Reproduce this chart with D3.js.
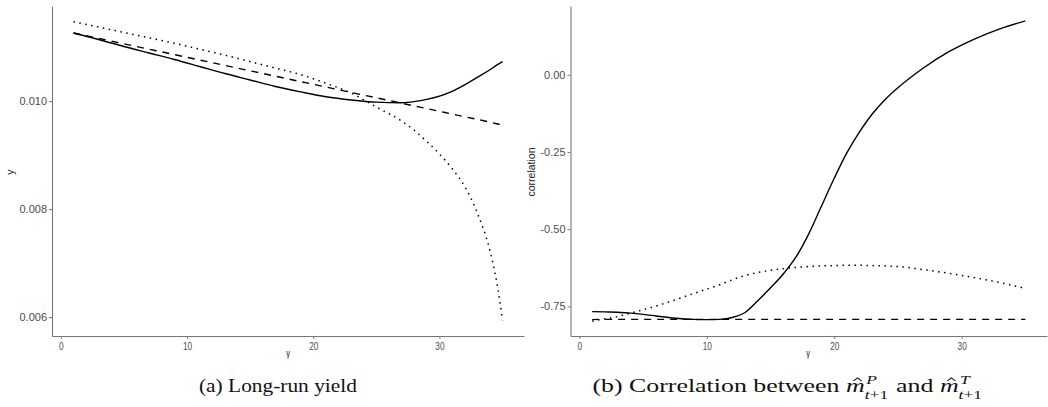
<!DOCTYPE html>
<html>
<head>
<meta charset="utf-8">
<script src="https://cdn.jsdelivr.net/npm/d3@7"></script>
<style>
  body { margin: 0; background: #fff; }
  svg { display: block; }
  .cap text { white-space: pre; }
</style>
</head>
<body>
<svg id="chart" width="1048" height="407"></svg>
<script>
// values
const gammaA = [1, 3, 5, 7, 9, 11, 13, 15, 17, 19, 21, 23, 25, 27, 28, 29, 30, 31, 32, 33, 34, 34.5, 35];
const yieldSolid = [0.01126, 0.01114, 0.01101, 0.01089, 0.01077, 0.01064, 0.01051, 0.01039, 0.01027, 0.01017,
  0.01008, 0.01002, 0.00998, 0.00997, 0.00999, 0.01003, 0.01009, 0.01018, 0.01030, 0.01044, 0.01058, 0.01066, 0.01073];
const yieldDashed = [0.01126, 0.01116, 0.01106, 0.01096, 0.01086, 0.01076, 0.01066, 0.01056, 0.01046, 0.01036,
  0.01026, 0.01016, 0.01006, 0.00996, 0.00991, 0.00986, 0.00981, 0.00976, 0.00971, 0.00966, 0.00961, 0.00958, 0.00956];
const yieldDotted = [0.01147, 0.01137, 0.01127, 0.01117, 0.01107, 0.01096, 0.01085, 0.01073, 0.01061, 0.01049,
  0.01033, 0.01015, 0.00989, 0.00963, 0.00946, 0.00925, 0.00902, 0.00875, 0.00842, 0.00793, 0.00723, 0.00670, 0.00594];

const gammaB = [1, 2, 3, 4, 5, 6, 7, 8, 9, 10, 11, 12, 13, 14, 15, 16, 17, 18, 19, 20, 21, 22, 23, 24, 25, 27, 29, 31, 33, 35];
const corrSolid = [-0.767, -0.768, -0.769, -0.772, -0.776, -0.781, -0.786, -0.790, -0.792, -0.793, -0.792, -0.786,
  -0.770, -0.732, -0.690, -0.645, -0.590, -0.515, -0.425, -0.335, -0.252, -0.184, -0.126, -0.080, -0.042,
  0.022, 0.075, 0.116, 0.149, 0.175];
const corrDashed = [-0.793, -0.792, -0.792, -0.792, -0.792, -0.792, -0.792, -0.792, -0.792, -0.792, -0.792, -0.792,
  -0.792, -0.792, -0.792, -0.792, -0.792, -0.792, -0.792, -0.792, -0.792, -0.792, -0.792, -0.792, -0.792,
  -0.792, -0.792, -0.792, -0.792, -0.792];
const corrDotted = [-0.798, -0.790, -0.783, -0.772, -0.761, -0.749, -0.736, -0.722, -0.708, -0.694, -0.680, -0.664,
  -0.650, -0.640, -0.633, -0.628, -0.624, -0.621, -0.619, -0.618, -0.617, -0.617, -0.618, -0.619, -0.621,
  -0.631, -0.643, -0.657, -0.673, -0.692];

const xTicks = [0, 10, 20, 30];
const yTicksA = [0.006, 0.008, 0.010];
const yTicksB = [-0.75, -0.5, -0.25, 0];

const svg = d3.select("#chart");

const dashes = { solid: null, dashed: "7,6", dotted: "1.5,4.5" };

function panel(opts) {
  const x = d3.scaleLinear().domain([-0.7, 36.7]).range([opts.left, opts.right]);
  const y = d3.scaleLinear().domain(opts.yDomain).range([336, 6]);
  const g = svg.append("g");

  // axes
  const xAxis = g.append("g")
    .attr("transform", "translate(0,336)")
    .call(d3.axisBottom(x).tickValues(xTicks).tickSize(3).tickPadding(3).tickSizeOuter(0));
  const yAxis = g.append("g")
    .attr("transform", `translate(${opts.left},0)`)
    .call(d3.axisLeft(y).tickValues(opts.yTicks).tickSize(3).tickPadding(2).tickSizeOuter(0)
      .tickFormat(opts.fmt));
  [xAxis, yAxis].forEach((a) => {
    a.select(".domain").attr("stroke", "#777").attr("stroke-width", 1.1);
    a.selectAll(".tick line").attr("stroke", "#777");
    a.selectAll(".tick text")
      .attr("fill", "#4d4d4d")
      .style("font-family", "'Liberation Sans', Arial, sans-serif")
      .style("font-size", "11px");
  });
  // x tick labels are squeezed in the figure
  xAxis.selectAll(".tick text").attr("transform", "scale(0.75,1)");

  // axis titles
  g.append("text")
    .attr("transform", `translate(${opts.gammaX},357) scale(0.75,1)`)
    .attr("text-anchor", "middle")
    .style("font-family", "'Liberation Sans', Arial, sans-serif")
    .style("font-size", "10px")
    .attr("fill", "#222")
    .text("γ");
  g.append("text")
    .attr("transform", `translate(${opts.titleX},172) rotate(-90)`)
    .attr("text-anchor", "middle")
    .style("font-family", "'Liberation Sans', Arial, sans-serif")
    .style("font-size", "10.5px")
    .attr("fill", "#222")
    .text(opts.yTitle);

  const line = d3.line()
    .x((d) => x(d.g))
    .y((d) => y(d.v))
    .curve(d3.curveMonotoneX);

  opts.series.forEach((s) => {
    const pts = opts.gamma.map((gv, i) => ({ g: gv, v: s.values[i] }));
    g.append("path")
      .datum(pts)
      .attr("fill", "none")
      .attr("stroke", "#000")
      .attr("stroke-width", s.type === "dotted" ? 1.5 : 1.4)
      .attr("stroke-dasharray", dashes[s.type])
      .attr("d", line);
  });
}

panel({
  left: 52, right: 524, yDomain: [0.00565, 0.01176], yTicks: yTicksA,
  fmt: d3.format(".3f"), gamma: gammaA, yTitle: "y", titleX: 14, gammaX: 288,
  series: [
    { type: "dotted", values: yieldDotted },
    { type: "dashed", values: yieldDashed },
    { type: "solid", values: yieldSolid },
  ],
});

panel({
  left: 570.5, right: 1047, yDomain: [-0.846, 0.223], yTicks: yTicksB,
  fmt: (d) => d.toFixed(2), gamma: gammaB, yTitle: "correlation", titleX: 535, gammaX: 808,
  series: [
    { type: "dotted", values: corrDotted },
    { type: "dashed", values: corrDashed },
    { type: "solid", values: corrSolid },
  ],
});

// captions: pieces laid out one after another, sup/sub stacked
const serif = "'Liberation Serif', 'Times New Roman', serif";
const capSize = 18.5;
function caption(pieces, cx, width) {
  const g = svg.append("g").attr("class", "cap");
  let cursor = 0;
  const add = (txt, italic, size, dy, xpos) => {
    const t = g.append("text")
      .attr("x", xpos)
      .attr("y", dy)
      .style("font-family", serif)
      .style("font-size", size + "px")
      .style("font-style", italic ? "italic" : "normal")
      .attr("fill", "#111")
      .text(txt);
    return t.node().getComputedTextLength();
  };
  pieces.forEach((p) => {
    if (p.sup) {
      const w1 = add(p.sup, true, 12.5, -8.5, cursor + 1);
      const t = g.append("text")
        .attr("x", cursor)
        .attr("y", 6.5)
        .style("font-family", serif)
        .style("font-size", "12.5px")
        .attr("fill", "#111");
      t.append("tspan").style("font-style", "italic").text("t");
      t.append("tspan").text(p.sub);
      const w2 = t.node().getComputedTextLength();
      cursor += Math.max(w1, w2) + 1;
    } else if (p.hat) {
      const w = add(p.t, true, capSize, 0, cursor);
      const hx = cursor + w / 2 + 1.5;
      g.append("path")
        .attr("d", `M${hx - 3},-11 L${hx},-14 L${hx + 3},-11`)
        .attr("fill", "none")
        .attr("stroke", "#111")
        .attr("stroke-width", 0.9);
      cursor += w;
    } else {
      cursor += add(p.t, p.italic, capSize, 0, cursor);
    }
  });
  const sx = width / cursor;
  g.attr("transform", `translate(${cx - width / 2},392) scale(${sx},1)`);
}

caption([{ t: "(a) Long-run yield" }], 278, 158);
caption([
  { t: "(b) Correlation between " },
  { t: "m", hat: true },
  { sup: "P", sub: "+1" },
  { t: " and " },
  { t: "m", hat: true },
  { sup: "T", sub: "+1" },
], 788, 391);
</script>
</body>
</html>
